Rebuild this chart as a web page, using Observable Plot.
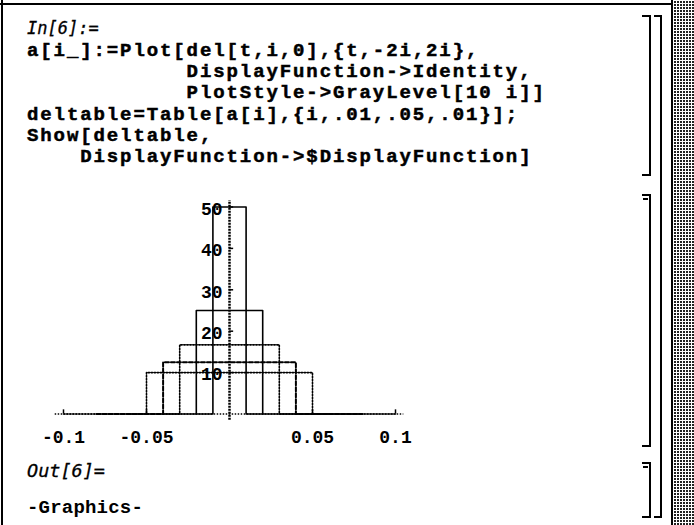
<!DOCTYPE html>
<html>
<head>
<meta charset="utf-8">
<script src="https://cdn.jsdelivr.net/npm/d3@7"></script>
<script src="https://cdn.jsdelivr.net/npm/@observablehq/plot@0.6"></script>
<style>
  html, body { margin: 0; padding: 0; background: #fff; overflow: hidden; }
  #page { position: relative; width: 694px; height: 525px; background: #fff; }
  .abs { position: absolute; }
  .code { font-family: "Liberation Mono", monospace; font-weight: bold; font-size: 19px;
          letter-spacing: 1.9px; line-height: 21.2px; white-space: pre; color: #000;
          -webkit-text-stroke: 0.5px #000; }
  .label { font-family: "DejaVu Sans Mono", monospace; font-style: italic; color: #000;
           white-space: pre; -webkit-text-stroke: 0.3px #000; }
  .out { font-family: "Liberation Mono", monospace; font-weight: bold; font-size: 19px;
         letter-spacing: 0.2px; white-space: pre; color: #000; }
  .bracket { position: absolute; box-sizing: content-box; border-color: #000; border-style: solid; }
  #chart svg { background: transparent; overflow: visible; }
</style>
</head>
<body>
<div id="page">
  <div class="abs" style="left:1px;top:0;width:2px;height:525px;background:#000"></div>
  <div class="abs" style="left:0;top:3px;width:672px;height:2px;background:#000"></div>
  <div class="abs" style="left:671px;top:0;width:2px;height:525px;background:#000"></div>
  <div class="abs" style="left:674px;top:0;width:20px;height:525px;
       background-image: repeating-linear-gradient(0deg, transparent 0 2px, #fff 2px 3px),
                         repeating-linear-gradient(90deg, #222 0 2px, #fff 2px 3px);"></div>

  <div class="abs label" id="inLabel" style="left:27px;top:18px;font-size:17px;">In[6]:=</div>
  <div class="abs code" id="code" style="left:27px;top:41px;"></div>

  <div class="abs" id="chart" style="left:0;top:185px;"></div>

  <div class="abs label" id="outLabel" style="left:27px;top:460px;font-size:18.5px;">Out[6]=</div>
  <div class="abs out" id="outText" style="left:27px;top:497px;">-Graphics-</div>

  <div class="bracket" style="left:642px;top:15px;width:7px;height:157px;border-width:2px 2px 2px 0;"></div>
  <div class="bracket" style="left:642px;top:194px;width:7px;height:249px;border-width:2px 2px 2px 0;"></div>
  <div class="abs" style="left:643px;top:198px;width:5px;height:2px;background:#000"></div>
  <div class="bracket" style="left:642px;top:462px;width:7px;height:52px;border-width:2px 2px 2px 0;"></div>
  <div class="abs" style="left:643px;top:466px;width:5px;height:2px;background:#000"></div>
  <div class="bracket" style="left:654px;top:15px;width:6px;height:499px;border-width:2px 2px 2px 0;"></div>
</div>
<script>
// ---- notebook text ----
const codeLines = [
  "a[i_]:=Plot[del[t,i,0],{t,-2i,2i},",
  "            DisplayFunction->Identity,",
  "            PlotStyle->GrayLevel[10 i]]",
  "deltable=Table[a[i],{i,.01,.05,.01}];",
  "Show[deltable,",
  "    DisplayFunction->$DisplayFunction]"
];

// ---- chart data ----
const halfWidths = [0.01, 0.02, 0.03, 0.04, 0.05];   // i
const heights = [50, 25, 16.7, 12.5, 10];            // pulse height
const grayLevels = [0.1, 0.2, 0.3, 0.4, 0.5];         // GrayLevel[10 i]
const dashPatterns = ["none", "none", "1.5,1.5", "4,2", "1.5,1.5"];
const xTicks = [-0.1, -0.05, 0.05, 0.1];
const xTickLabels = ["-0.1", "-0.05", "0.05", "0.1"];
const yTicks = [10, 20, 30, 40, 50];
const yTickLabels = ["10", "20", "30", "40", "50"];

document.getElementById("code").textContent = codeLines.join("\n");

const curves = halfWidths.map((w, k) => {
  const h = heights[k];
  return [
    {t: -2 * w, v: 0}, {t: -w, v: 0}, {t: -w, v: h},
    {t: w, v: h}, {t: w, v: 0}, {t: 2 * w, v: 0}
  ];
});

const tickFont = {fontFamily: "Liberation Mono, monospace", fontSize: 18, fontWeight: "bold", fill: "#000"};

const chart = Plot.plot({
  width: 460,
  height: 270,
  marginLeft: 46.4,
  marginRight: 48.4,
  marginTop: 0.8,
  marginBottom: 8.4,
  x: {domain: [-0.11, 0.11], axis: null},
  y: {domain: [-8, 55], axis: null},
  style: {background: "transparent", overflow: "visible"},
  marks: [
    // axes
    Plot.ruleY([0], {x1: -0.105, x2: 0.105, stroke: "#000", strokeWidth: 1.5, strokeDasharray: "1.5,1.5"}),
    Plot.ruleX([0], {y1: -1.5, y2: 51.5, stroke: "#000", strokeWidth: 2.5, strokeDasharray: "2,1"}),
    Plot.ruleX(xTicks, {x: d => d, y1: 0, y2: 1, stroke: "#000", strokeWidth: 1.5}),
    Plot.ruleY(yTicks, {y: d => d, x1: 0, x2: 0.0025, stroke: "#000", strokeWidth: 1.5}),
    // curves
    ...curves.map((pts, k) => Plot.line(pts, {
      x: "t", y: "v",
      stroke: "#000",
      strokeWidth: k === 3 ? 2 : 1.6,
      strokeDasharray: dashPatterns[k] === "none" ? null : dashPatterns[k],
      curve: "linear"
    })),
    // tick labels
    Plot.text(xTicks, {x: d => d, y: -5.6, text: (d, i) => xTickLabels[i], textAnchor: "middle", lineAnchor: "middle", ...tickFont}),
    Plot.text(yTicks, {x: 0, y: d => d, text: (d, i) => yTickLabels[i], textAnchor: "end", lineAnchor: "middle", dx: -7, dy: 2, ...tickFont})
  ]
});
document.getElementById("chart").appendChild(chart);
</script>
</body>
</html>
